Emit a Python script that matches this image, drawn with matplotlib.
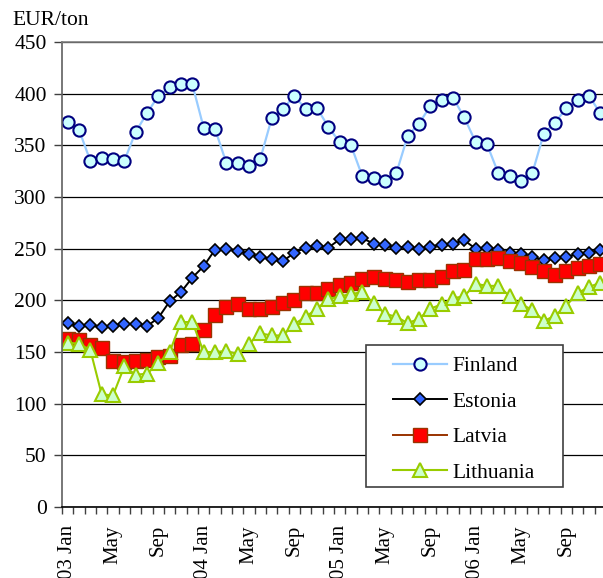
import numpy as np
import matplotlib
matplotlib.use("Agg")
matplotlib.rcParams.update({'font.family': 'Liberation Serif', 'font.size': 15.5})
import matplotlib.pyplot as plt
from matplotlib.patches import Rectangle

# monthly prices, 2003 Jan .. 2006 Dec
finland = [373, 365, 335, 338, 337, 335, 363, 381, 398, 406, 409, 409,
           367, 366, 333, 333, 330, 337, 376, 385, 398, 385, 386, 368,
           353, 350, 320, 318, 315, 323, 359, 371, 388, 394, 396, 377,
           353, 351, 323, 320, 315, 323, 361, 372, 386, 394, 398, 381]
estonia = [178, 175, 176, 174, 175, 177, 177, 175, 183, 199, 208, 222,
           233, 249, 250, 248, 245, 242, 240, 238, 246, 251, 253, 251,
           259, 259, 260, 255, 254, 251, 252, 250, 252, 254, 255, 258,
           250, 251, 249, 246, 245, 242, 239, 241, 242, 245, 246, 249]
latvia = [163, 162, 157, 154, 141, 140, 141, 142, 145, 146, 157, 158,
          171, 186, 194, 196, 192, 192, 194, 197, 200, 207, 207, 211,
          215, 217, 221, 223, 221, 220, 218, 220, 220, 223, 228, 229,
          240, 240, 241, 238, 236, 232, 228, 225, 228, 231, 233, 235]
lithuania = [159, 158, 152, 109, 108, 136, 128, 129, 139, 150, 179, 179,
             150, 150, 151, 148, 158, 168, 166, 166, 177, 184, 192, 201,
             204, 206, 208, 197, 187, 184, 178, 182, 192, 196, 202, 204,
             216, 214, 214, 204, 196, 191, 180, 185, 195, 207, 213, 217]
tick_labels = ["03 Jan", "May", "Sep", "04 Jan", "May", "Sep",
               "05 Jan", "May", "Sep", "06 Jan", "May", "Sep"]

x = np.arange(len(finland))

fig = plt.figure(figsize=(6.03, 5.78), dpi=100)
ax = fig.add_axes([62/603., 71/578., 544/603., 465/578.])

ax.plot(x, finland, color='#99CCFF', lw=1.6, marker='o', ms=8.8,
        mfc='#CCFFFF', mec='#000080', mew=1.5, label='Finland')
ax.plot(x, estonia, color='black', lw=1.4, marker='D', ms=6.2,
        mfc='#3366FF', mec='black', mew=1.2, label='Estonia')
ax.plot(x, latvia, color='#993300', lw=1.4, marker='s', ms=9.8,
        mfc='#FF0000', mec='#993300', mew=1.0, label='Latvia')
ax.plot(x, lithuania, color='#99CC00', lw=1.5, marker='^', ms=9.8,
        mfc='#CCFFCC', mec='#99CC00', mew=1.5, label='Lithuania')

ax.set_xlim(-0.5, len(x) - 0.5)
ax.set_ylim(0, 450)
ax.set_yticks(np.arange(0, 451, 50))
ax.set_xticks(x[::4])
ax.set_xticklabels(tick_labels, rotation=90, fontsize=15)
ax.set_xticks(np.arange(-0.5, len(x), 1), minor=True)
ax.tick_params(axis='x', which='major', length=0, pad=13)
ax.tick_params(axis='x', which='minor', length=5, width=1, color='#404040', direction='out')
ax.tick_params(axis='y', length=6, width=1, color='#404040', pad=5)

ax.yaxis.grid(True, color='black', lw=0.9)
ax.set_axisbelow(True)
ax.spines['top'].set_color('#808080')
ax.spines['left'].set_color('#606060')
ax.spines['right'].set_visible(False)
ax.spines['bottom'].set_color('black')
for s in ax.spines.values():
    s.set_linewidth(1.2)

fig.text(12/603., 1 - 25/578., 'EUR/ton', ha='left', va='baseline')

# legend box
box = Rectangle((304/544., 20/465.), 197/544., 142/465., transform=ax.transAxes,
                facecolor='white', edgecolor='#404040', lw=1.2, zorder=4.5, clip_on=False)
ax.add_patch(box)
leg = ax.legend(loc='upper left', bbox_to_anchor=(331/544., 151/465.),
                frameon=False, borderpad=0, borderaxespad=0,
                handlelength=2.5, handletextpad=0.25, labelspacing=0.72)
leg.set_zorder(5)

fig.savefig('out.png', dpi=100)
